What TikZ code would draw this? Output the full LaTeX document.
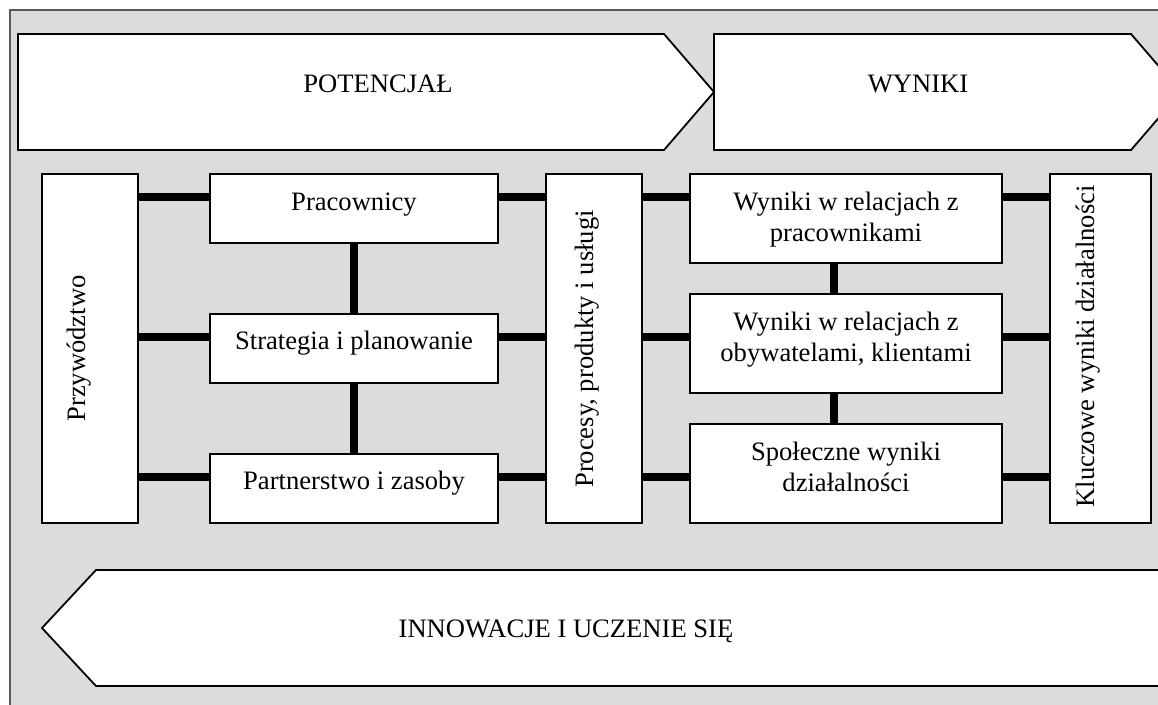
\documentclass[tikz,border=0pt]{standalone}
\usepackage{fontspec}
\setmainfont{Liberation Serif}
\definecolor{bggray}{HTML}{DCDCDC}
\definecolor{framegray}{HTML}{5A5A5A}
\begin{document}
\begin{tikzpicture}[x=1pt,y=-1pt,
  box/.style={draw=black,fill=white,line width=1.8pt,inner sep=0pt,outer sep=0pt,rectangle},
  shapeline/.style={draw=black,fill=white,line width=1.8pt,line join=miter},
  conn/.style={line width=7.5pt,black},
  lbl/.style={inner sep=0pt,outer sep=0pt,font=\fontsize{26.6}{31.7}\selectfont},
  every node/.style={font=\fontsize{26.6}{31.7}\selectfont}]
\useasboundingbox (0,0) rectangle (1158,704);
\clip (0,0) rectangle (1158,704);
% outer frame
\path[fill=bggray,draw=framegray,line width=1.2pt] (10,10) rectangle (1175,720);
% big arrows
\path[shapeline] (18,34) -- (664,34) -- (714,92) -- (664,150) -- (18,150) -- cycle;
\path[shapeline] (714,34) -- (1131,34) -- (1181,92) -- (1131,150) -- (714,150) -- cycle;
\path[shapeline] (96,570) -- (1200,570) -- (1200,686) -- (96,686) -- (42,628) -- cycle;
\node[lbl,anchor=base] (tpot) at (378,92) {POTENCJAŁ};
\node[lbl,anchor=base] (twyn) at (918,92) {WYNIKI};
\node[lbl,anchor=base] (tinn) at (566,637) {INNOWACJE I UCZENIE SIĘ};
% boxes
\node[box,minimum width=96pt,minimum height=349pt] (przyw) at (90,348.5) {};
\node[box,minimum width=288pt,minimum height=69pt] (prac) at (354,208.5) {};
\node[box,minimum width=288pt,minimum height=69pt] (strat) at (354,348.5) {};
\node[box,minimum width=288pt,minimum height=69pt] (partn) at (354,488.5) {};
\node[box,minimum width=96pt,minimum height=349pt] (proc) at (594,348.5) {};
\node[box,minimum width=312pt,minimum height=89pt] (w1) at (846,218.5) {};
\node[box,minimum width=312pt,minimum height=99pt] (w2) at (846,343.5) {};
\node[box,minimum width=312pt,minimum height=99pt] (w3) at (846,473.5) {};
\node[box,minimum width=101pt,minimum height=349pt] (klucz) at (1100.5,348.5) {};
% row levels
\coordinate (r1) at (0,197);
\coordinate (r2) at (0,337);
\coordinate (r3) at (0,477);
% connectors
\foreach \r/\a/\b in {r1/przyw/prac, r2/przyw/strat, r3/przyw/partn,
                      r1/prac/proc, r2/strat/proc, r3/partn/proc,
                      r1/proc/w1, r2/proc/w2, r3/proc/w3,
                      r1/w1/klucz, r2/w2/klucz, r3/w3/klucz}
  \draw[conn] ([xshift=0.9pt]\a.east |- \r) -- ([xshift=-0.9pt]\b.west |- \r);
\draw[conn] ([yshift=0.9pt]prac.south) -- ([yshift=-0.9pt]strat.north);
\draw[conn] ([yshift=0.9pt]strat.south) -- ([yshift=-0.9pt]partn.north);
\draw[conn] ([xshift=-12pt,yshift=0.9pt]w1.south) -- ([xshift=-12pt,yshift=-0.9pt]w2.north);
\draw[conn] ([xshift=-12pt,yshift=0.9pt]w2.south) -- ([xshift=-12pt,yshift=-0.9pt]w3.north);
% texts
\node[lbl,anchor=base,rotate=90] (tprzyw) at (85,348.5) {Przywództwo};
\node[lbl,anchor=base] (tprac) at (354,210) {Pracownicy};
\node[lbl,anchor=base] (tstrat) at (354,349) {Strategia i planowanie};
\node[lbl,anchor=base] (tpartn) at (354,489) {Partnerstwo i zasoby};
\node[lbl,anchor=base,rotate=90] (tproc) at (593,349) {Procesy, produkty i usługi};
\node[lbl,anchor=base] (tw1) at (846,210) {\begin{tabular}[t]{@{}c@{}}Wyniki w relacjach z\\pracownikami\end{tabular}};
\node[lbl,anchor=base] (tw2) at (846,330) {\begin{tabular}[t]{@{}c@{}}Wyniki w relacjach z\\obywatelami, klientami\end{tabular}};
\node[lbl,anchor=base] (tw3) at (846,460) {\begin{tabular}[t]{@{}c@{}}Społeczne wyniki\\działalności\end{tabular}};
\node[lbl,anchor=base,rotate=90] (tklucz) at (1094,346.5) {Kluczowe wyniki działalności};
\end{tikzpicture}
\end{document}
